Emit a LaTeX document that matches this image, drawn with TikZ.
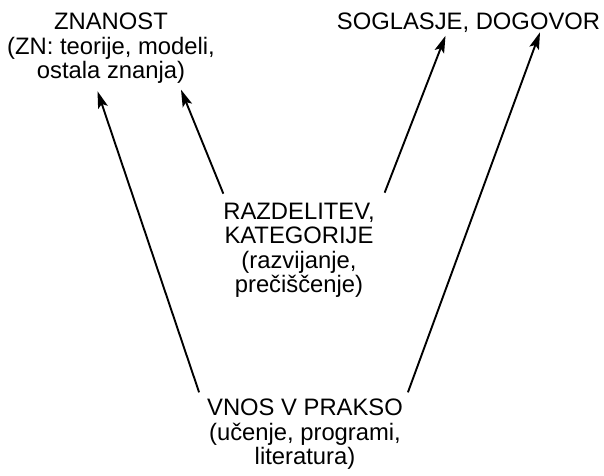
\documentclass[tikz,border=0pt]{standalone}
\usepackage{fontspec}
\setmainfont{Liberation Sans}
\usepackage{tikz}
\usetikzlibrary{arrows.meta}

\tikzset{
  lbl/.style={align=center,font=\fontsize{23.8}{24.5}\selectfont},
  flow/.style={-{Stealth[length=17pt,width=10pt,inset=3.5pt]},line width=1.9pt},
}

\begin{document}
\begin{tikzpicture}[x=1pt,y=1pt]
  \useasboundingbox (0,0) rectangle (604,475);
  \node[lbl,anchor=base] (zn) at (111,396) {ZNANOST\\(ZN: teorije, modeli,\\ostala znanja)};
  \node[lbl,anchor=base] (sog) at (468.5,445) {SOGLASJE, DOGOVOR};
  \node[lbl,anchor=base] (raz) at (299,182.5) {RAZDELITEV,\\KATEGORIJE\\(razvijanje,\\prečiščenje)};
  \node[lbl,anchor=base] (vnos) at (305,10.5) {VNOS V PRAKSO\\(učenje, programi,\\literatura)};
  % puscice
  \draw[flow] ([shift={(-4.5,3)}]vnos.north west) -- ([shift={(-13.5,-3.7)}]zn.south);
  \draw[flow] ([shift={(3.5,5.4)}]raz.north west) -- ([shift={(70,-2.2)}]zn.south);
  \draw[flow] ([shift={(6.5,6.4)}]raz.north east) -- ([shift={(-23,0.8)}]sog.south);
  \draw[flow] ([shift={(1.5,3)}]vnos.north east) -- ([shift={(71.5,4.3)}]sog.south);
\end{tikzpicture}
\end{document}
